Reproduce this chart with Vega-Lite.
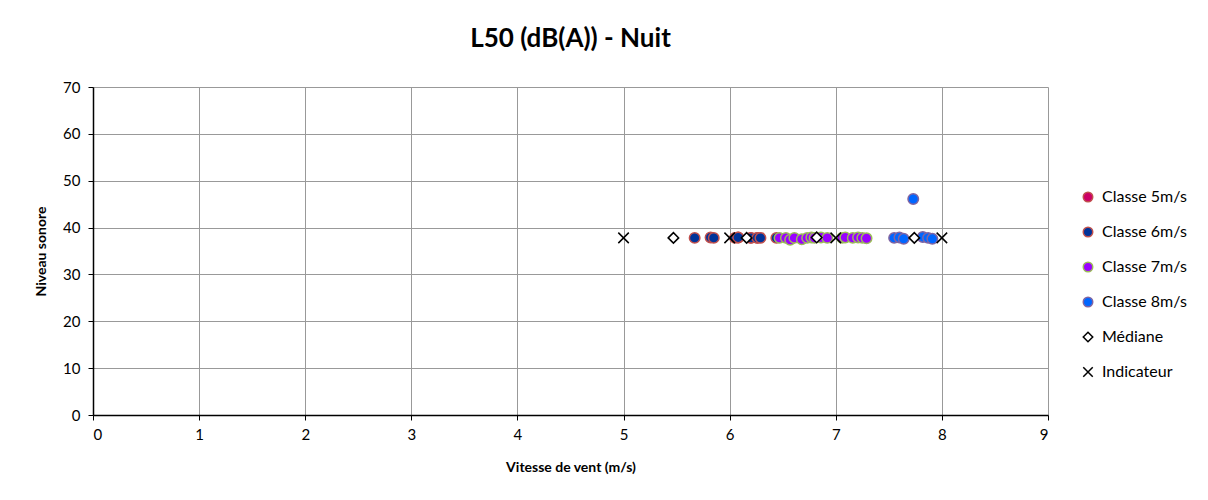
{
  "$schema": "https://vega.github.io/schema/vega-lite/v6.json",
  "width": 955,
  "height": 328,
  "autosize": {"type": "none"},
  "padding": {"left": 93, "top": 87, "right": 160, "bottom": 85},
  "background": "white",
  "title": {
    "text": "L50 (dB(A)) - Nuit",
    "font": "Lato",
    "fontSize": 26,
    "fontWeight": "bold",
    "color": "#000000",
    "anchor": "middle",
    "offset": 28
  },
  "config": {
    "view": {"stroke": null},
    "font": "Lato"
  },
  "data": {
    "values": [
      {"x": 6.08, "y": 37.9, "serie": "Classe 5m/s"},
      {"x": 6.2, "y": 37.8, "serie": "Classe 5m/s"},
      {"x": 6.26, "y": 37.8, "serie": "Classe 5m/s"},
      {"x": 5.67, "y": 37.8, "serie": "Classe 6m/s"},
      {"x": 5.82, "y": 37.9, "serie": "Classe 6m/s"},
      {"x": 5.85, "y": 37.8, "serie": "Classe 6m/s"},
      {"x": 6.05, "y": 37.8, "serie": "Classe 6m/s"},
      {"x": 6.08, "y": 37.9, "serie": "Classe 6m/s"},
      {"x": 6.2, "y": 37.8, "serie": "Classe 6m/s"},
      {"x": 6.26, "y": 37.8, "serie": "Classe 6m/s"},
      {"x": 6.29, "y": 37.8, "serie": "Classe 6m/s"},
      {"x": 6.44, "y": 37.8, "serie": "Classe 6m/s"},
      {"x": 6.47, "y": 37.8, "serie": "Classe 7m/s"},
      {"x": 6.53, "y": 37.8, "serie": "Classe 7m/s"},
      {"x": 6.57, "y": 37.4, "serie": "Classe 7m/s"},
      {"x": 6.61, "y": 37.8, "serie": "Classe 7m/s"},
      {"x": 6.68, "y": 37.5, "serie": "Classe 7m/s"},
      {"x": 6.73, "y": 37.8, "serie": "Classe 7m/s"},
      {"x": 6.77, "y": 37.9, "serie": "Classe 7m/s"},
      {"x": 6.8, "y": 37.8, "serie": "Classe 7m/s"},
      {"x": 6.86, "y": 37.9, "serie": "Classe 7m/s"},
      {"x": 6.92, "y": 37.8, "serie": "Classe 7m/s"},
      {"x": 7.06, "y": 37.8, "serie": "Classe 7m/s"},
      {"x": 7.09, "y": 37.9, "serie": "Classe 7m/s"},
      {"x": 7.16, "y": 37.8, "serie": "Classe 7m/s"},
      {"x": 7.21, "y": 37.9, "serie": "Classe 7m/s"},
      {"x": 7.25, "y": 37.8, "serie": "Classe 7m/s"},
      {"x": 7.29, "y": 37.7, "serie": "Classe 7m/s"},
      {"x": 7.55, "y": 37.8, "serie": "Classe 8m/s"},
      {"x": 7.6, "y": 37.9, "serie": "Classe 8m/s"},
      {"x": 7.64, "y": 37.6, "serie": "Classe 8m/s"},
      {"x": 7.73, "y": 46.1, "serie": "Classe 8m/s"},
      {"x": 7.82, "y": 38.0, "serie": "Classe 8m/s"},
      {"x": 7.87, "y": 37.8, "serie": "Classe 8m/s"},
      {"x": 7.91, "y": 37.6, "serie": "Classe 8m/s"},
      {"x": 5.47, "y": 37.8, "serie": "Médiane"},
      {"x": 6.16, "y": 37.8, "serie": "Médiane"},
      {"x": 6.82, "y": 37.9, "serie": "Médiane"},
      {"x": 7.74, "y": 37.8, "serie": "Médiane"},
      {"x": 5.0, "y": 37.8, "serie": "Indicateur"},
      {"x": 6.0, "y": 37.8, "serie": "Indicateur"},
      {"x": 7.0, "y": 37.8, "serie": "Indicateur"},
      {"x": 8.0, "y": 37.8, "serie": "Indicateur"}
    ]
  },
  "mark": {"type": "point", "filled": false, "size": 110, "strokeWidth": 1.5, "opacity": 1},
  "encoding": {
    "x": {
      "field": "x",
      "type": "quantitative",
      "scale": {"domain": [0, 9], "nice": false, "zero": false},
      "axis": {
        "title": "Vitesse de vent (m/s)",
        "titleFont": "Lato",
        "titleFontSize": 14,
        "titleFontWeight": "bold",
        "titleColor": "#000",
        "titlePadding": 18,
        "values": [0, 1, 2, 3, 4, 5, 6, 7, 8, 9],
        "format": "d",
        "labelFont": "Lato",
        "labelFontSize": 15,
        "labelColor": "#000",
        "labelPadding": 7,
        "domainColor": "#000",
        "domainWidth": 1.5,
        "tickColor": "#000",
        "tickSize": 5,
        "grid": true,
        "gridColor": "#999999",
        "gridWidth": 1
      }
    },
    "y": {
      "field": "y",
      "type": "quantitative",
      "scale": {"domain": [0, 70], "nice": false, "zero": true},
      "axis": {
        "title": "Niveau sonore",
        "titleFont": "Lato",
        "titleFontSize": 14,
        "titleFontWeight": "bold",
        "titleColor": "#000",
        "titlePadding": 14,
        "values": [0, 10, 20, 30, 40, 50, 60, 70],
        "labelFont": "Lato",
        "labelFontSize": 15,
        "labelColor": "#000",
        "labelPadding": 8,
        "domainColor": "#000",
        "domainWidth": 1.5,
        "tickColor": "#000",
        "tickSize": 5,
        "grid": true,
        "gridColor": "#999999",
        "gridWidth": 1
      }
    },
    "fill": {
      "field": "serie",
      "type": "nominal",
      "scale": {
        "domain": ["Classe 5m/s", "Classe 6m/s", "Classe 7m/s", "Classe 8m/s", "Médiane", "Indicateur"],
        "range": ["#CC0066", "#003399", "#9900FF", "#0066FF", "#FFFFFF", "transparent"]
      },
      "legend": {
        "title": null,
        "orient": "none",
        "legendX": 987,
        "legendY": 102,
        "labelFont": "Lato",
        "labelFontSize": 16,
        "labelColor": "#000",
        "rowPadding": 19,
        "symbolSize": 90,
        "labelOffset": 6,
        "padding": 0
      }
    },
    "stroke": {
      "field": "serie",
      "type": "nominal",
      "scale": {
        "domain": ["Classe 5m/s", "Classe 6m/s", "Classe 7m/s", "Classe 8m/s", "Médiane", "Indicateur"],
        "range": ["#C0504D", "#C0504D", "#9BBB59", "#8064A2", "#000000", "#000000"]
      }
    },
    "shape": {
      "field": "serie",
      "type": "nominal",
      "scale": {
        "domain": ["Classe 5m/s", "Classe 6m/s", "Classe 7m/s", "Classe 8m/s", "Médiane", "Indicateur"],
        "range": ["circle", "circle", "circle", "circle", "diamond", "M-1,-1L1,1M-1,1L1,-1"]
      }
    }
  }
}
